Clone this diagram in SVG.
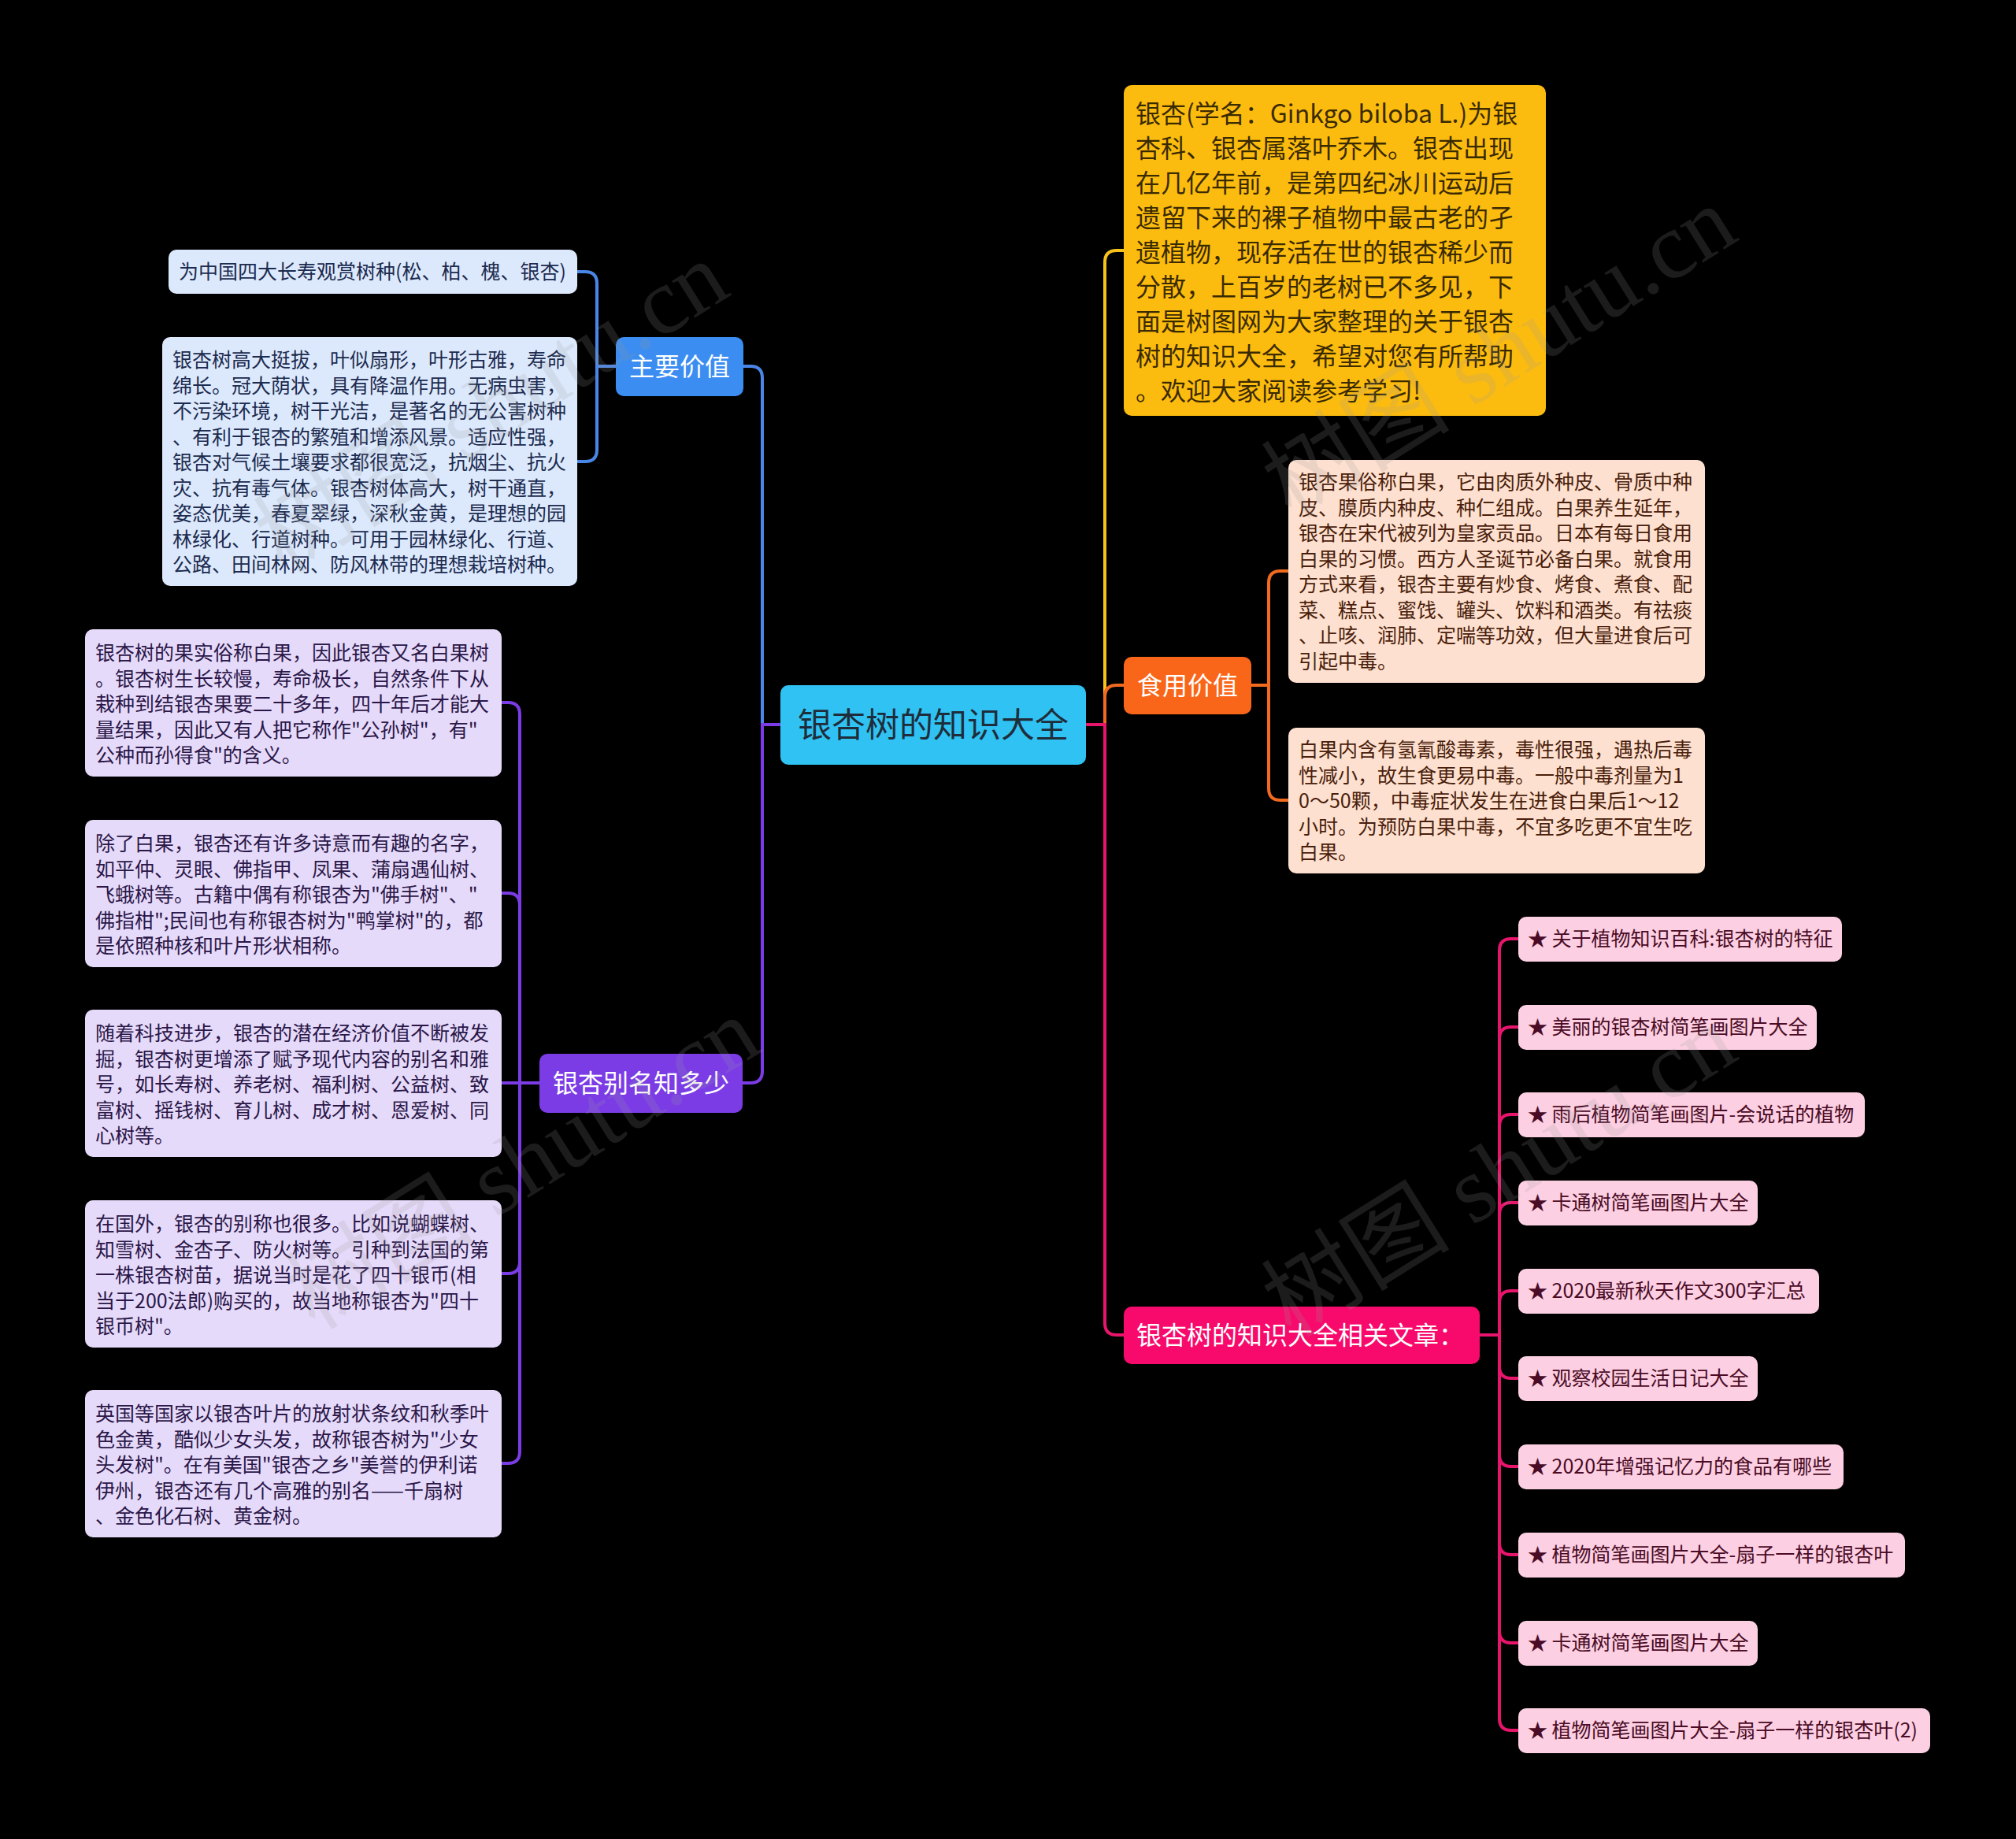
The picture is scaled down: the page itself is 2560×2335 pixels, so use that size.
<svg xmlns="http://www.w3.org/2000/svg" width="2560" height="2335" viewBox="0 0 2560 2335">
<style>
text{font-family:"Noto Sans CJK SC","Noto Sans",sans-serif}
.ln{fill:none;stroke-width:4;stroke-linecap:round}
.t25{font-size:25px}
.t32{font-size:32px}
.bl{fill:#1c2b4f}.pu{fill:#2a1748}.or{fill:#4a1e0c}.ye{fill:#3a2a00}.pk{fill:#4a0b25}
.wm{font-family:"Liberation Serif","Noto Sans CJK SC",serif;font-size:120px;fill:#9a9a9a;opacity:0.18}
</style>
<rect width="2560" height="2335" fill="#000"/>

<g id="connectors">
  <path class="ln" stroke="#4a86e8" d="M991 920 H968 V480 Q968 465 953 465 H944"/>
  <path class="ln" stroke="#7b3ce6" d="M991 920 H968 V1360 Q968 1375 953 1375 H943"/>
  <path class="ln" stroke="#f7c21a" d="M1379 920 H1403 V333 Q1403 318 1418 318 H1427"/>
  <path class="ln" stroke="#f06a20" d="M1379 920 H1403 V885 Q1403 870 1418 870 H1427"/>
  <path class="ln" stroke="#e8156d" d="M1379 920 H1403 V1680 Q1403 1695 1418 1695 H1427"/>

  <path class="ln" stroke="#4a86e8" d="M782 465 H758 V360 Q758 345 743 345 H733"/>
  <path class="ln" stroke="#4a86e8" d="M782 465 H758 V571 Q758 586 743 586 H733"/>

  <path class="ln" stroke="#7b3ce6" d="M685 1375 H660 V907 Q660 892 645 892 H637"/>
  <path class="ln" stroke="#7b3ce6" d="M685 1375 H660 V1149 Q660 1134 645 1134 H637"/>
  <path class="ln" stroke="#7b3ce6" d="M685 1375 H637"/>
  <path class="ln" stroke="#7b3ce6" d="M685 1375 H660 V1602 Q660 1617 645 1617 H637"/>
  <path class="ln" stroke="#7b3ce6" d="M685 1375 H660 V1843 Q660 1858 645 1858 H637"/>

  <path class="ln" stroke="#f06a20" d="M1589 870 H1611 V740 Q1611 725 1626 725 H1636"/>
  <path class="ln" stroke="#f06a20" d="M1589 870 H1611 V1001 Q1611 1016 1626 1016 H1636"/>

  <path class="ln" stroke="#e8156d" d="M1879 1695 H1904 V1207 Q1904 1192 1919 1192 H1928"/>
  <path class="ln" stroke="#e8156d" d="M1879 1695 H1904 V1319 Q1904 1304 1919 1304 H1928"/>
  <path class="ln" stroke="#e8156d" d="M1879 1695 H1904 V1430 Q1904 1415 1919 1415 H1928"/>
  <path class="ln" stroke="#e8156d" d="M1879 1695 H1904 V1542 Q1904 1527 1919 1527 H1928"/>
  <path class="ln" stroke="#e8156d" d="M1879 1695 H1904 V1654 Q1904 1639 1919 1639 H1928"/>
  <path class="ln" stroke="#e8156d" d="M1879 1695 H1904 V1735 Q1904 1750 1919 1750 H1928"/>
  <path class="ln" stroke="#e8156d" d="M1879 1695 H1904 V1847 Q1904 1862 1919 1862 H1928"/>
  <path class="ln" stroke="#e8156d" d="M1879 1695 H1904 V1959 Q1904 1974 1919 1974 H1928"/>
  <path class="ln" stroke="#e8156d" d="M1879 1695 H1904 V2071 Q1904 2086 1919 2086 H1928"/>
  <path class="ln" stroke="#e8156d" d="M1879 1695 H1904 V2182 Q1904 2197 1919 2197 H1928"/>
</g>

<g id="root">
  <rect x="991" y="870" width="388" height="101" rx="10" fill="#2fc2f2"/>
  <text x="1185" y="936" font-size="43" text-anchor="middle" fill="#1f2d3a">银杏树的知识大全</text>
</g>

<g id="zhuyao">
  <rect x="782" y="428" width="162" height="75" rx="10" fill="#3b8df1"/>
  <text x="863" y="477" class="t32" text-anchor="middle" fill="#fff">主要价值</text>
</g>
<g id="zhuyao-1">
  <rect x="214" y="317" width="519" height="56" rx="10" fill="#dce9fc"/>
  <text x="227" y="354" class="t25 bl">为中国四大长寿观赏树种(松、柏、槐、银杏)</text>
</g>
<g id="zhuyao-2">
  <rect x="206" y="428" width="527" height="316" rx="10" fill="#dce9fc"/>
  <text class="t25 bl">
    <tspan x="219" y="466">银杏树高大挺拔，叶似扇形，叶形古雅，寿命</tspan>
    <tspan x="219" y="498.5">绵长。冠大荫状，具有降温作用。无病虫害，</tspan>
    <tspan x="219" y="531">不污染环境，树干光洁，是著名的无公害树种</tspan>
    <tspan x="219" y="563.5">、有利于银杏的繁殖和增添风景。适应性强，</tspan>
    <tspan x="219" y="596">银杏对气候土壤要求都很宽泛，抗烟尘、抗火</tspan>
    <tspan x="219" y="628.5">灾、抗有毒气体。银杏树体高大，树干通直，</tspan>
    <tspan x="219" y="661">姿态优美，春夏翠绿，深秋金黄，是理想的园</tspan>
    <tspan x="219" y="693.5">林绿化、行道树种。可用于园林绿化、行道、</tspan>
    <tspan x="219" y="726">公路、田间林网、防风林带的理想栽培树种。</tspan>
  </text>
</g>

<g id="bieming">
  <rect x="685" y="1338" width="258" height="75" rx="10" fill="#7b3ce6"/>
  <text x="814" y="1387" class="t32" text-anchor="middle" fill="#fff">银杏别名知多少</text>
</g>
<g id="bieming-1">
  <rect x="108" y="799" width="529" height="187" rx="10" fill="#e6dafa"/>
  <text class="t25 pu">
    <tspan x="121" y="838">银杏树的果实俗称白果，因此银杏又名白果树</tspan>
    <tspan x="121" y="870.5">。银杏树生长较慢，寿命极长，自然条件下从</tspan>
    <tspan x="121" y="903">栽种到结银杏果要二十多年，四十年后才能大</tspan>
    <tspan x="121" y="935.5">量结果，因此又有人把它称作"公孙树"，有"</tspan>
    <tspan x="121" y="968">公种而孙得食"的含义。</tspan>
  </text>
</g>
<g id="bieming-2">
  <rect x="108" y="1041" width="529" height="187" rx="10" fill="#e6dafa"/>
  <text class="t25 pu">
    <tspan x="121" y="1080">除了白果，银杏还有许多诗意而有趣的名字，</tspan>
    <tspan x="121" y="1112.5">如平仲、灵眼、佛指甲、凤果、蒲扇遇仙树、</tspan>
    <tspan x="121" y="1145">飞蛾树等。古籍中偶有称银杏为"佛手树"、"</tspan>
    <tspan x="121" y="1177.5">佛指柑";民间也有称银杏树为"鸭掌树"的，都</tspan>
    <tspan x="121" y="1210">是依照种核和叶片形状相称。</tspan>
  </text>
</g>
<g id="bieming-3">
  <rect x="108" y="1282" width="529" height="187" rx="10" fill="#e6dafa"/>
  <text class="t25 pu">
    <tspan x="121" y="1321">随着科技进步，银杏的潜在经济价值不断被发</tspan>
    <tspan x="121" y="1353.5">掘，银杏树更增添了赋予现代内容的别名和雅</tspan>
    <tspan x="121" y="1386">号，如长寿树、养老树、福利树、公益树、致</tspan>
    <tspan x="121" y="1418.5">富树、摇钱树、育儿树、成才树、恩爱树、同</tspan>
    <tspan x="121" y="1451">心树等。</tspan>
  </text>
</g>
<g id="bieming-4">
  <rect x="108" y="1524" width="529" height="187" rx="10" fill="#e6dafa"/>
  <text class="t25 pu">
    <tspan x="121" y="1563">在国外，银杏的别称也很多。比如说蝴蝶树、</tspan>
    <tspan x="121" y="1595.5">知雪树、金杏子、防火树等。引种到法国的第</tspan>
    <tspan x="121" y="1628">一株银杏树苗，据说当时是花了四十银币(相</tspan>
    <tspan x="121" y="1660.5">当于200法郎)购买的，故当地称银杏为"四十</tspan>
    <tspan x="121" y="1693">银币树"。</tspan>
  </text>
</g>
<g id="bieming-5">
  <rect x="108" y="1765" width="529" height="187" rx="10" fill="#e6dafa"/>
  <text class="t25 pu">
    <tspan x="121" y="1804">英国等国家以银杏叶片的放射状条纹和秋季叶</tspan>
    <tspan x="121" y="1836.5">色金黄，酷似少女头发，故称银杏树为"少女</tspan>
    <tspan x="121" y="1869">头发树"。在有美国"银杏之乡"美誉的伊利诺</tspan>
    <tspan x="121" y="1901.5">伊州，银杏还有几个高雅的别名——千扇树</tspan>
    <tspan x="121" y="1934">、金色化石树、黄金树。</tspan>
  </text>
</g>

<g id="intro">
  <rect x="1427" y="108" width="536" height="420" rx="10" fill="#fcbc0f"/>
  <text class="ye" font-size="32">
    <tspan x="1442" y="156">银杏(学名：Ginkgo biloba L.)为银</tspan>
    <tspan x="1442" y="200">杏科、银杏属落叶乔木。银杏出现</tspan>
    <tspan x="1442" y="244">在几亿年前，是第四纪冰川运动后</tspan>
    <tspan x="1442" y="288">遗留下来的裸子植物中最古老的孑</tspan>
    <tspan x="1442" y="332">遗植物，现存活在世的银杏稀少而</tspan>
    <tspan x="1442" y="376">分散，上百岁的老树已不多见，下</tspan>
    <tspan x="1442" y="420">面是树图网为大家整理的关于银杏</tspan>
    <tspan x="1442" y="464">树的知识大全，希望对您有所帮助</tspan>
    <tspan x="1442" y="508">。欢迎大家阅读参考学习!</tspan>
  </text>
</g>

<g id="shiyong">
  <rect x="1427" y="834" width="162" height="73" rx="10" fill="#fa6619"/>
  <text x="1508" y="882" class="t32" text-anchor="middle" fill="#fff">食用价值</text>
</g>
<g id="shiyong-1">
  <rect x="1636" y="584" width="529" height="283" rx="10" fill="#fde0cf"/>
  <text class="t25 or">
    <tspan x="1649" y="621">银杏果俗称白果，它由肉质外种皮、骨质中种</tspan>
    <tspan x="1649" y="653.5">皮、膜质内种皮、种仁组成。白果养生延年，</tspan>
    <tspan x="1649" y="686">银杏在宋代被列为皇家贡品。日本有每日食用</tspan>
    <tspan x="1649" y="718.5">白果的习惯。西方人圣诞节必备白果。就食用</tspan>
    <tspan x="1649" y="751">方式来看，银杏主要有炒食、烤食、煮食、配</tspan>
    <tspan x="1649" y="783.5">菜、糕点、蜜饯、罐头、饮料和酒类。有祛痰</tspan>
    <tspan x="1649" y="816">、止咳、润肺、定喘等功效，但大量进食后可</tspan>
    <tspan x="1649" y="848.5">引起中毒。</tspan>
  </text>
</g>
<g id="shiyong-2">
  <rect x="1636" y="924" width="529" height="185" rx="10" fill="#fde0cf"/>
  <text class="t25 or">
    <tspan x="1649" y="961">白果内含有氢氰酸毒素，毒性很强，遇热后毒</tspan>
    <tspan x="1649" y="993.5">性减小，故生食更易中毒。一般中毒剂量为1</tspan>
    <tspan x="1649" y="1026">0～50颗，中毒症状发生在进食白果后1～12</tspan>
    <tspan x="1649" y="1058.5">小时。为预防白果中毒，不宜多吃更不宜生吃</tspan>
    <tspan x="1649" y="1091">白果。</tspan>
  </text>
</g>

<g id="wenzhang">
  <rect x="1427" y="1659" width="452" height="73" rx="10" fill="#f70a6b"/>
  <text x="1443" y="1707" class="t32" fill="#fff">银杏树的知识大全相关文章：</text>
</g>
<g id="wz-1"><rect x="1928" y="1164" width="411" height="57" rx="10" fill="#fccfe2"/><text x="1940" y="1201" class="t25 pk">★ 关于植物知识百科:银杏树的特征</text></g>
<g id="wz-2"><rect x="1928" y="1276" width="379" height="57" rx="10" fill="#fccfe2"/><text x="1940" y="1313" class="t25 pk">★ 美丽的银杏树简笔画图片大全</text></g>
<g id="wz-3"><rect x="1928" y="1387" width="440" height="57" rx="10" fill="#fccfe2"/><text x="1940" y="1424" class="t25 pk">★ 雨后植物简笔画图片-会说话的植物</text></g>
<g id="wz-4"><rect x="1928" y="1499" width="304" height="57" rx="10" fill="#fccfe2"/><text x="1940" y="1536" class="t25 pk">★ 卡通树简笔画图片大全</text></g>
<g id="wz-5"><rect x="1928" y="1611" width="382" height="57" rx="10" fill="#fccfe2"/><text x="1940" y="1648" class="t25 pk">★ 2020最新秋天作文300字汇总</text></g>
<g id="wz-6"><rect x="1928" y="1722" width="304" height="57" rx="10" fill="#fccfe2"/><text x="1940" y="1759" class="t25 pk">★ 观察校园生活日记大全</text></g>
<g id="wz-7"><rect x="1928" y="1834" width="413" height="57" rx="10" fill="#fccfe2"/><text x="1940" y="1871" class="t25 pk">★ 2020年增强记忆力的食品有哪些</text></g>
<g id="wz-8"><rect x="1928" y="1946" width="491" height="57" rx="10" fill="#fccfe2"/><text x="1940" y="1983" class="t25 pk">★ 植物简笔画图片大全-扇子一样的银杏叶</text></g>
<g id="wz-9"><rect x="1928" y="2058" width="304" height="57" rx="10" fill="#fccfe2"/><text x="1940" y="2095" class="t25 pk">★ 卡通树简笔画图片大全</text></g>
<g id="wz-10"><rect x="1928" y="2169" width="523" height="57" rx="10" fill="#fccfe2"/><text x="1940" y="2206" class="t25 pk">★ 植物简笔画图片大全-扇子一样的银杏叶(2)</text></g>

<g id="watermarks">
  <text class="wm" transform="translate(360 730) rotate(-32)">树图 shutu.cn</text>
  <text class="wm" transform="translate(1640 660) rotate(-32)">树图 shutu.cn</text>
  <text class="wm" transform="translate(400 1690) rotate(-32)">树图 shutu.cn</text>
  <text class="wm" transform="translate(1640 1700) rotate(-32)">树图 shutu.cn</text>
</g>
</svg>
